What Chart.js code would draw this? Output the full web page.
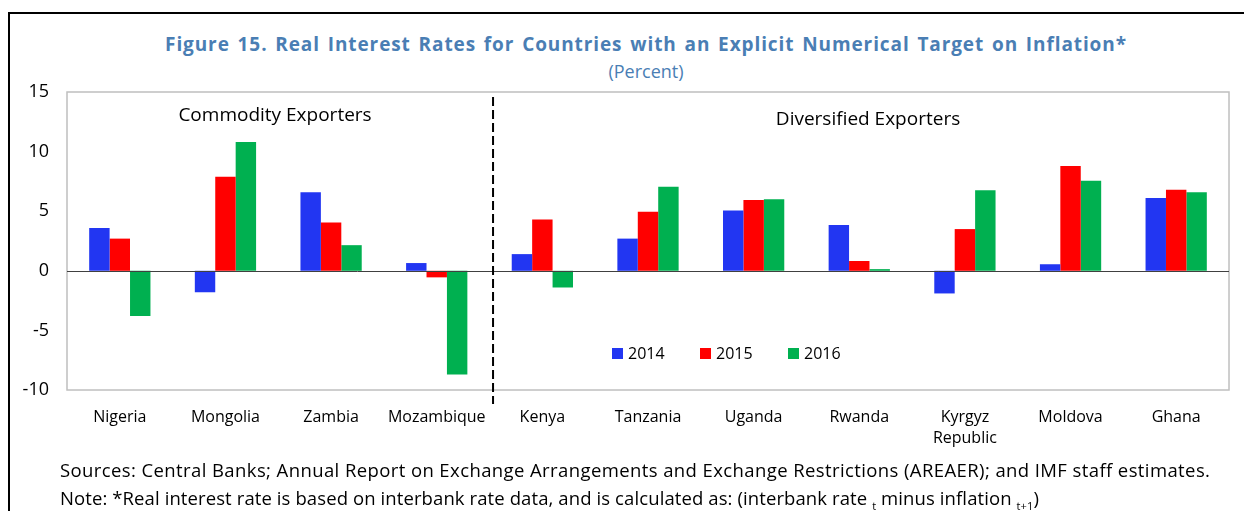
<!DOCTYPE html>
<html>
<head>
<meta charset="utf-8">
<script src="https://cdn.jsdelivr.net/npm/chart.js@4"></script>
<style>
  body { margin: 0; background: #fff; }
  #wrap { position: relative; width: 1244px; height: 511px; overflow: hidden; font-family: "Open Sans", sans-serif; }
  #frame { position: absolute; left: 8px; top: 12px; width: 1250px; height: 520px; border-left: 2px solid #000; border-top: 2px solid #000; }
  #title { position: absolute; left: 0; width: 1292px; top: 31px; text-align: center; color: #4a7eb4; font-weight: bold; font-size: 19px; letter-spacing: 0.9px; word-spacing: 2px; }
  #sub { position: absolute; left: 0; width: 1292px; top: 59px; text-align: center; color: #4a7eb4; font-size: 18px; }
  .note { position: absolute; left: 60px; color: #000; font-size: 18.5px; white-space: nowrap; }
  .note sub { font-size: 11px; }
  canvas { position: absolute; left: 0; top: 0; }
</style>
</head>
<body>
<div id="wrap">
  <div id="frame"></div>
  <div id="title">Figure 15. Real Interest Rates for Countries with an Explicit Numerical Target on Inflation*</div>
  <div id="sub">(Percent)</div>
  <canvas id="chart" width="1244" height="511"></canvas>
  <div class="note" style="top:457px;letter-spacing:0.4px">Sources: Central Banks; Annual Report on Exchange Arrangements and Exchange Restrictions (AREAER); and IMF staff estimates.</div>
  <div class="note" style="top:485px;letter-spacing:0.1px">Note: *Real interest rate is based on interbank rate data, and is calculated as: (interbank rate <sub>t</sub> minus inflation <sub>t+1</sub>)</div>
</div>
<script>
// datos
const countries = ['Nigeria', 'Mongolia', 'Zambia', 'Mozambique', 'Kenya', 'Tanzania', 'Uganda', 'Rwanda', ['Kyrgyz', 'Republic'], 'Moldova', 'Ghana'];
const years = ['2014', '2015', '2016'];
const rate2014 = [3.6, -1.8, 6.6, 0.65, 1.4, 2.7, 5.05, 3.85, -1.9, 0.55, 6.1];
const rate2015 = [2.7, 7.9, 4.05, -0.55, 4.3, 4.95, 5.95, 0.82, 3.5, 8.8, 6.8];
const rate2016 = [-3.8, 10.8, 2.15, -8.7, -1.4, 7.05, 6.0, 0.14, 6.75, 7.55, 6.6];
const groups = ['Commodity Exporters', 'Diversified Exporters'];
const yTicks = [-10, -5, 0, 5, 10, 15];

const colors = ['#2236f2', '#ff0000', '#00b050'];

// borde del area, linea del cero, separador, textos de grupo y leyenda
const extras = {
    id: 'extras',
    afterDatasetsDraw(chart) {
        const { ctx, chartArea: a, scales: { x, y } } = chart;
        ctx.save();

        ctx.strokeStyle = '#bfbfbf';
        ctx.lineWidth = 1.5;
        ctx.strokeRect(a.left, a.top, a.right - a.left, a.bottom - a.top);

        const y0 = Math.round(y.getPixelForValue(0)) + 0.5;
        ctx.strokeStyle = '#404040';
        ctx.lineWidth = 1;
        ctx.beginPath();
        ctx.moveTo(a.left, y0);
        ctx.lineTo(a.right, y0);
        ctx.stroke();

        const xs = (x.getPixelForValue(3) + x.getPixelForValue(4)) / 2 + 3.5;
        ctx.strokeStyle = '#000';
        ctx.lineWidth = 2;
        ctx.setLineDash([9, 4]);
        ctx.beginPath();
        ctx.moveTo(xs, a.top + 5);
        ctx.lineTo(xs, a.bottom + 14);
        ctx.stroke();
        ctx.setLineDash([]);

        ctx.fillStyle = '#000';
        ctx.font = '19px "Open Sans"';
        ctx.textAlign = 'center';
        ctx.textBaseline = 'middle';
        ctx.fillText(groups[0], (a.left + xs) / 2 - 5, a.top + 24);
        ctx.fillText(groups[1], (xs + a.right) / 2 + 7, a.top + 28);

        // leyenda
        ctx.font = '16px "Open Sans"';
        ctx.textAlign = 'left';
        let lx = 612;
        const ly = 353;
        years.forEach((yr, i) => {
            ctx.fillStyle = colors[i];
            ctx.fillRect(lx, ly - 5, 11, 11);
            ctx.fillStyle = '#000';
            ctx.fillText(yr, lx + 16, ly + 1);
            lx += 88;
        });
        ctx.restore();
    }
};

const ctx = document.getElementById('chart').getContext('2d');
new Chart(ctx, {
    type: 'bar',
    data: {
        labels: countries,
        datasets: [
            { label: years[0], data: rate2014, backgroundColor: colors[0] },
            { label: years[1], data: rate2015, backgroundColor: colors[1] },
            { label: years[2], data: rate2016, backgroundColor: colors[2] },
        ],
    },
    options: {
        responsive: false,
        animation: false,
        devicePixelRatio: 1,
        categoryPercentage: 0.58,
        barPercentage: 1.0,
        layout: { padding: { top: 92, right: 15, bottom: 61, left: 0 } },
        plugins: {
            legend: { display: false },
            tooltip: { enabled: false },
        },
        scales: {
            x: {
                grid: { display: false, drawTicks: false },
                border: { display: false },
                ticks: { color: '#000', font: { family: 'Open Sans', size: 16, lineHeight: 1.3 }, padding: 17, maxRotation: 0, autoSkip: false },
                afterFit: (scale) => { scale.height = 60; },
            },
            y: {
                min: yTicks[0],
                max: yTicks[yTicks.length - 1],
                afterBuildTicks: (scale) => { scale.ticks = yTicks.map((v) => ({ value: v })); },
                grid: { display: false, drawTicks: false },
                border: { display: false },
                ticks: { color: '#000', font: { family: 'Open Sans', size: 18 }, padding: 18 },
                afterFit: (scale) => { scale.width = 67; },
            },
        },
    },
    plugins: [extras],
});
</script>
</body>
</html>
